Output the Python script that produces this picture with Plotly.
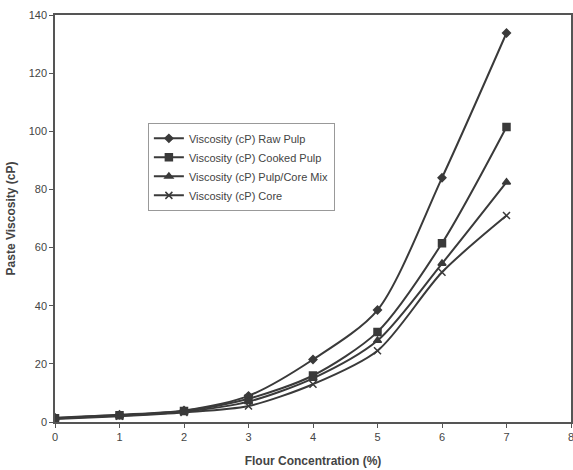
import plotly.graph_objects as go

conc = [0, 1, 2, 3, 4, 5, 6, 7]
raw_pulp = [1.5, 2.5, 4.0, 9.0, 21.5, 38.5, 84.0, 133.8]
cooked_pulp = [1.3, 2.3, 3.8, 8.0, 16.0, 31.0, 61.5, 101.5]
pulp_core_mix = [1.2, 2.2, 3.5, 7.0, 15.0, 28.0, 54.5, 82.5]
core = [1.0, 2.0, 3.3, 5.5, 13.0, 24.5, 51.5, 71.0]
x_ticks = [0, 1, 2, 3, 4, 5, 6, 7, 8]

names = ["Viscosity (cP) Raw Pulp", "Viscosity (cP) Cooked Pulp",
         "Viscosity (cP) Pulp/Core Mix", "Viscosity (cP) Core"]
series = [raw_pulp, cooked_pulp, pulp_core_mix, core]
symbols = ["diamond", "square", "triangle-up", "x-thin"]
sizes = [6, 7, 7, 7]

col = "#3a3a3a"
fig = go.Figure()
for n, s, sym, sz in zip(names, series, symbols, sizes):
    fig.add_trace(go.Scatter(
        x=conc, y=s, name=n, mode="lines+markers",
        line=dict(color=col, width=2, shape="spline", smoothing=0.8),
        marker=dict(symbol=sym, size=sz, color=col, line=dict(color=col, width=1.5)),
    ))

fig.update_layout(
    width=573, height=470,
    margin=dict(l=55, r=2, t=15, b=48),
    paper_bgcolor="white", plot_bgcolor="white",
    font=dict(family="Liberation Sans, Arial", color="#444", size=11),
    showlegend=True,
    legend=dict(x=0.18, y=0.735, xanchor="left", yanchor="top",
                bgcolor="white", bordercolor="#999", borderwidth=1,
                font=dict(size=11, color="#444"), tracegroupgap=0,
                itemwidth=30),
    xaxis=dict(range=[0, 8], tickmode="array", tickvals=x_ticks,
               ticktext=[str(t) for t in x_ticks],
               showgrid=False, zeroline=False,
               showline=True, linecolor="#555", linewidth=1.5, mirror=True,
               ticks="outside", ticklen=4, tickcolor="#555", automargin=False,
               ticklabeloverflow="allow",
               title=dict(text="<b>Flour Concentration (%)</b>", font=dict(size=12, color="#444"), standoff=15)),
    yaxis=dict(range=[0, 140], dtick=20, showgrid=False, zeroline=False,
               showline=True, linecolor="#555", linewidth=1.5, mirror=True,
               ticks="outside", ticklen=4, tickcolor="#555", automargin=False,
               title=dict(text="<b>Paste Viscosity (cP)</b>", font=dict(size=12, color="#444"), standoff=10)),
)

post = ("document.documentElement.style.margin='0';"
        "document.body.style.margin='0';"
        "document.body.style.overflow='hidden';"
        "document.documentElement.style.overflow='hidden';")
fig.write_html("out.html", post_script=post, config={"displayModeBar": False})
